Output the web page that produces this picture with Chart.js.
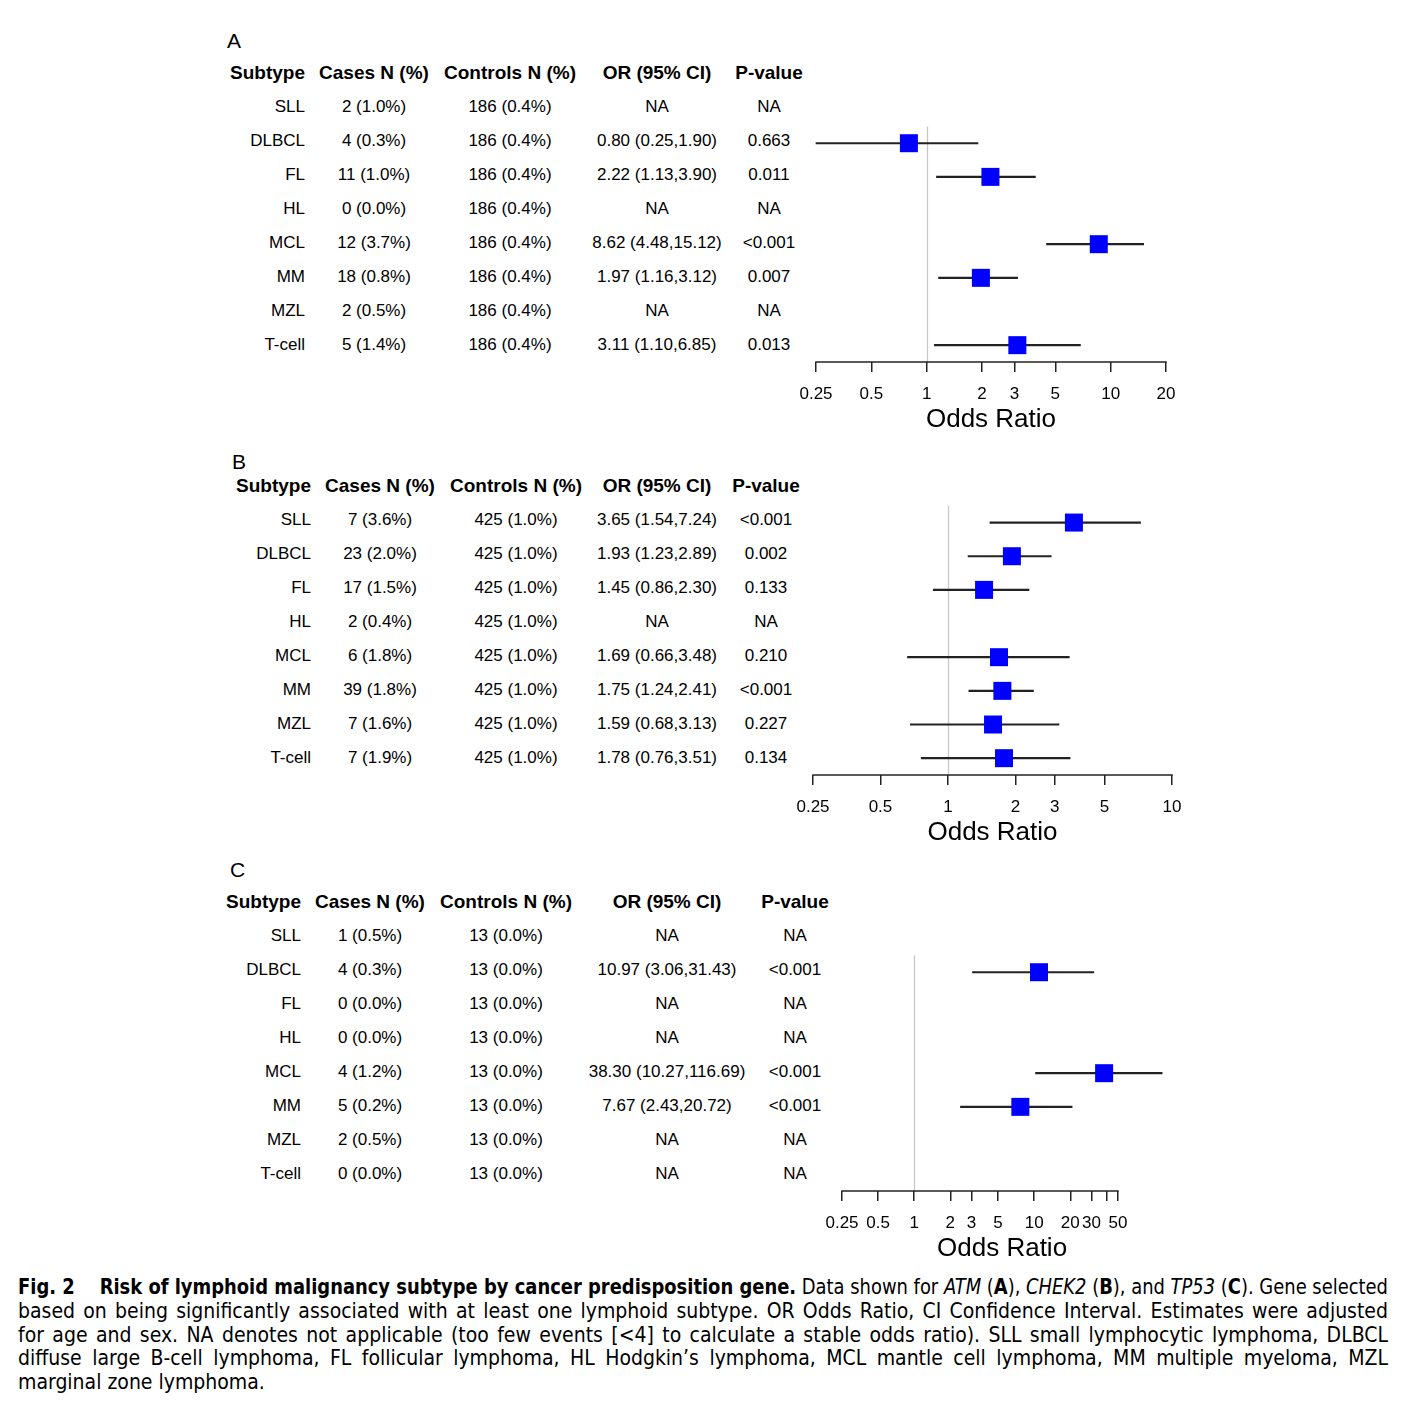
<!DOCTYPE html>
<html>
<head>
<meta charset="utf-8">
<script src="https://cdn.jsdelivr.net/npm/chart.js"></script>
<style>
body { margin:0; background:#fff; width:1424px; height:1414px; position:relative; font-family:"Liberation Sans", Arial, sans-serif; color:#000; overflow:hidden; }
.t { position:absolute; white-space:nowrap; font-size:17px; line-height:34px; height:34px; }
.h { font-weight:bold; font-size:19px; }
.c { text-align:center; width:220px; }
.r { text-align:right; width:120px; }
.letra { position:absolute; font-size:21px; line-height:24px; }
canvas { position:absolute; }
.legenda { position:absolute; left:18px; width:1370px; font-family:"Liberation Sans Narrow","DejaVu Sans Condensed","Arial Narrow",sans-serif; font-size:21px; line-height:23.75px; white-space:nowrap; }
.legenda span { display:inline-block; transform-origin:left center; }
</style>
</head>
<body>
<div id="fig"></div>
<script>
var subtipos = ['SLL', 'DLBCL', 'FL', 'HL', 'MCL', 'MM', 'MZL', 'T-cell'];

// A - ATM
var casosA = ['2 (1.0%)', '4 (0.3%)', '11 (1.0%)', '0 (0.0%)', '12 (3.7%)', '18 (0.8%)', '2 (0.5%)', '5 (1.4%)'];
var controlesA = ['186 (0.4%)', '186 (0.4%)', '186 (0.4%)', '186 (0.4%)', '186 (0.4%)', '186 (0.4%)', '186 (0.4%)', '186 (0.4%)'];
var orA = [null, 0.80, 2.22, null, 8.62, 1.97, null, 3.11];
var infA = [null, 0.25, 1.13, null, 4.48, 1.16, null, 1.10];
var supA = [null, 1.90, 3.90, null, 15.12, 3.12, null, 6.85];
var pA = ['NA', '0.663', '0.011', 'NA', '<0.001', '0.007', 'NA', '0.013'];
var ticksA = [0.25, 0.5, 1, 2, 3, 5, 10, 20];
var rotulosA = ['0.25', '0.5', '1', '2', '3', '5', '10', '20'];

// B - CHEK2
var casosB = ['7 (3.6%)', '23 (2.0%)', '17 (1.5%)', '2 (0.4%)', '6 (1.8%)', '39 (1.8%)', '7 (1.6%)', '7 (1.9%)'];
var controlesB = ['425 (1.0%)', '425 (1.0%)', '425 (1.0%)', '425 (1.0%)', '425 (1.0%)', '425 (1.0%)', '425 (1.0%)', '425 (1.0%)'];
var orB = [3.65, 1.93, 1.45, null, 1.69, 1.75, 1.59, 1.78];
var infB = [1.54, 1.23, 0.86, null, 0.66, 1.24, 0.68, 0.76];
var supB = [7.24, 2.89, 2.30, null, 3.48, 2.41, 3.13, 3.51];
var pB = ['<0.001', '0.002', '0.133', 'NA', '0.210', '<0.001', '0.227', '0.134'];
var ticksB = [0.25, 0.5, 1, 2, 3, 5, 10];
var rotulosB = ['0.25', '0.5', '1', '2', '3', '5', '10'];

// C - TP53
var casosC = ['1 (0.5%)', '4 (0.3%)', '0 (0.0%)', '0 (0.0%)', '4 (1.2%)', '5 (0.2%)', '2 (0.5%)', '0 (0.0%)'];
var controlesC = ['13 (0.0%)', '13 (0.0%)', '13 (0.0%)', '13 (0.0%)', '13 (0.0%)', '13 (0.0%)', '13 (0.0%)', '13 (0.0%)'];
var orC = [null, 10.97, null, null, 38.30, 7.67, null, null];
var infC = [null, 3.06, null, null, 10.27, 2.43, null, null];
var supC = [null, 31.43, null, null, 116.69, 20.72, null, null];
var pC = ['NA', '<0.001', 'NA', 'NA', '<0.001', '<0.001', 'NA', 'NA'];
var ticksC = [0.25, 0.5, 1, 2, 3, 5, 10, 20, 30, 40, 50];
var rotulosC = ['0.25', '0.5', '1', '2', '3', '5', '10', '20', '30', '', '50'];

var cabecalhos = ['Subtype', 'Cases N (%)', 'Controls N (%)', 'OR (95% CI)', 'P-value'];

// posicoes de cada painel (layout, nao dados); eixo = pixel do primeiro e do ultimo tick
var paineis = [
    { letra: 'A', lx: 227, ly: 41, topo: 90, cols: [305, 374, 510, 657, 769], eixo: [816, 1166],
      casos: casosA, controles: controlesA, or: orA, inf: infA, sup: supA, p: pA, ticks: ticksA, rotulos: rotulosA },
    { letra: 'B', lx: 232, ly: 462, topo: 503, cols: [311, 380, 516, 657, 766], eixo: [813, 1172],
      casos: casosB, controles: controlesB, or: orB, inf: infB, sup: supB, p: pB, ticks: ticksB, rotulos: rotulosB },
    { letra: 'C', lx: 230, ly: 870, topo: 919, cols: [301, 370, 506, 667, 795], eixo: [842, 1118],
      casos: casosC, controles: controlesC, or: orC, inf: infC, sup: supC, p: pC, ticks: ticksC, rotulos: rotulosC }
];

var ALTURA_LINHA = 34;
var fig = document.getElementById('fig');

function texto(str, x, y, classes, alinhamento) {
    var d = document.createElement('div');
    d.className = 't ' + classes + (alinhamento === 'r' ? ' r' : ' c');
    d.textContent = str;
    if (alinhamento === 'r') {
        d.style.left = (x - 120) + 'px';
    } else {
        d.style.left = (x - 110) + 'px';
    }
    d.style.top = (y - 17) + 'px';
    fig.appendChild(d);
}

function textoOR(or, inf, sup) {
    if (or === null) return 'NA';
    return or.toFixed(2) + ' (' + inf.toFixed(2) + ',' + sup.toFixed(2) + ')';
}

// linha vertical cinza no OR = 1 (a partir da primeira linha com estimativa)
// e a linha do eixo, que vai so do primeiro ao ultimo tick
var linhaNula = {
    id: 'linhaNula',
    beforeDatasetsDraw: function (chart, args, opts) {
        var x = chart.scales.x, y = chart.scales.y;
        var meia = (y.getPixelForValue(1) - y.getPixelForValue(0)) / 2;
        var px = Math.round(x.getPixelForValue(1)) + 0.5;
        var ctx = chart.ctx;
        var base = chart.chartArea.bottom;
        ctx.save();
        ctx.strokeStyle = '#c8c8c8';
        ctx.lineWidth = 1.3;
        ctx.beginPath();
        ctx.moveTo(px, y.getPixelForValue(opts.indice) - meia);
        ctx.lineTo(px, base);
        ctx.stroke();

        ctx.strokeStyle = '#222';
        ctx.lineWidth = 1.5;
        ctx.beginPath();
        ctx.moveTo(x.getPixelForValue(opts.ticks[0]) - 0.75, base);
        ctx.lineTo(x.getPixelForValue(opts.ticks[opts.ticks.length - 1]) + 0.75, base);
        ctx.stroke();
        ctx.restore();
    }
};

function desenhaPainel(p) {
    var letra = document.createElement('div');
    letra.className = 'letra';
    letra.textContent = p.letra;
    letra.style.left = p.lx + 'px';
    letra.style.top = (p.ly - 12) + 'px';
    fig.appendChild(letra);

    var y0 = p.topo + ALTURA_LINHA / 2;
    // cabecalho
    for (var k = 0; k < cabecalhos.length; k++) {
        texto(cabecalhos[k], p.cols[k], y0 - ALTURA_LINHA, 'h', k === 0 ? 'r' : 'c');
    }
    // linhas da tabela
    for (var i = 0; i < subtipos.length; i++) {
        var yy = y0 + i * ALTURA_LINHA;
        texto(subtipos[i], p.cols[0], yy, '', 'r');
        texto(p.casos[i], p.cols[1], yy, '', 'c');
        texto(p.controles[i], p.cols[2], yy, '', 'c');
        texto(textoOR(p.or[i], p.inf[i], p.sup[i]), p.cols[3], yy, '', 'c');
        texto(p.p[i], p.cols[4], yy, '', 'c');
    }

    var ticks = p.ticks, rotulos = p.rotulos;
    var tMin = ticks[0], tMax = ticks[ticks.length - 1];
    // a escala vai ate o maior IC se ele passar do ultimo tick (como no R)
    var xMax = Math.max(tMax, Math.max.apply(null, p.sup.filter(function (v) { return v !== null; })));
    var pxPorLog = (p.eixo[1] - p.eixo[0]) / Math.log(tMax / tMin);
    var larguraArea = pxPorLog * Math.log(xMax / tMin);

    var padE = 40, padD = 40, padT = 10, altEixo = 73;
    var canvas = document.createElement('canvas');
    canvas.width = Math.round(padE + larguraArea + padD);
    canvas.height = padT + subtipos.length * ALTURA_LINHA + altEixo;
    canvas.style.left = (p.eixo[0] - padE) + 'px';
    canvas.style.top = (p.topo - padT) + 'px';
    fig.appendChild(canvas);
    padD = canvas.width - padE - larguraArea;

    var intervalos = subtipos.map(function (s, i) {
        return p.or[i] === null ? null : [p.inf[i], p.sup[i]];
    });
    var pontos = [];
    subtipos.forEach(function (s, i) {
        if (p.or[i] !== null) pontos.push({ x: p.or[i], y: s });
    });
    var primeiro = p.or.findIndex(function (v) { return v !== null; });

    new Chart(canvas, {
        type: 'bar',
        data: {
            labels: subtipos,
            datasets: [{
                type: 'scatter',
                data: pontos,
                pointStyle: 'rect',
                pointRadius: 12.73,
                backgroundColor: '#0000ff',
                borderColor: '#0000ff',
                borderWidth: 0,
                order: 1,
                clip: false
            }, {
                type: 'bar',
                data: intervalos,
                barThickness: 1.5,
                backgroundColor: '#222222',
                borderWidth: 0,
                order: 2,
                clip: false
            }]
        },
        options: {
            indexAxis: 'y',
            responsive: false,
            animation: false,
            events: [],
            layout: { padding: { left: padE, right: padD, top: padT, bottom: 0 } },
            plugins: {
                legend: { display: false },
                tooltip: { enabled: false },
                linhaNula: { indice: primeiro, ticks: ticks }
            },
            scales: {
                x: {
                    type: 'logarithmic',
                    bounds: 'data',
                    min: tMin,
                    max: xMax,
                    afterBuildTicks: function (s) {
                        s.ticks = ticks.map(function (v) { return { value: v }; });
                    },
                    afterFit: function (s) { s.height = altEixo; },
                    ticks: {
                        autoSkip: false,
                        maxRotation: 0,
                        padding: 12,
                        color: '#000',
                        font: { family: 'Liberation Sans', size: 17 },
                        callback: function (v, idx) { return rotulos[idx]; }
                    },
                    grid: { drawOnChartArea: false, tickLength: 10, color: '#222', lineWidth: 1.5 },
                    border: { display: false },
                    title: {
                        display: true,
                        text: 'Odds Ratio',
                        color: '#000',
                        font: { family: 'Liberation Sans', size: 26 },
                        padding: 0
                    }
                },
                y: { type: 'category', display: false }
            }
        },
        plugins: [linhaNula]
    });
}

paineis.forEach(desenhaPainel);

// legenda da figura
var legenda = [
    '<b>Fig. 2&nbsp;&nbsp;&nbsp; Risk of lymphoid malignancy subtype by cancer predisposition gene.</b> Data shown for <i>ATM</i> (<b>A</b>), <i>CHEK2</i> (<b>B</b>), and <i>TP53</i> (<b>C</b>). Gene selected',
    'based on being significantly associated with at least one lymphoid subtype. OR Odds Ratio, CI Confidence Interval. Estimates were adjusted',
    'for age and sex. NA denotes not applicable (too few events [&lt;4] to calculate a stable odds ratio). SLL small lymphocytic lymphoma, DLBCL',
    'diffuse large B-cell lymphoma, FL follicular lymphoma, HL Hodgkin\u2019s lymphoma, MCL mantle cell lymphoma, MM multiple myeloma, MZL',
    'marginal zone lymphoma.'
];
var LARGURA = 1370;
legenda.forEach(function (html, i) {
    var d = document.createElement('div');
    d.className = 'legenda';
    d.style.top = (1288 - 12 + i * 23.75) + 'px';
    var sp = document.createElement('span');
    sp.innerHTML = html;
    d.appendChild(sp);
    fig.appendChild(d);
    if (i === legenda.length - 1) return;
    var w = sp.getBoundingClientRect().width;
    if (w > LARGURA) {
        sp.style.transform = 'scaleX(' + (LARGURA / w) + ')';
    } else {
        var espacos = sp.textContent.split(/[ \u00a0]/).length - 1;
        sp.style.wordSpacing = ((LARGURA - w) / espacos) + 'px';
    }
});
</script>
</body>
</html>
